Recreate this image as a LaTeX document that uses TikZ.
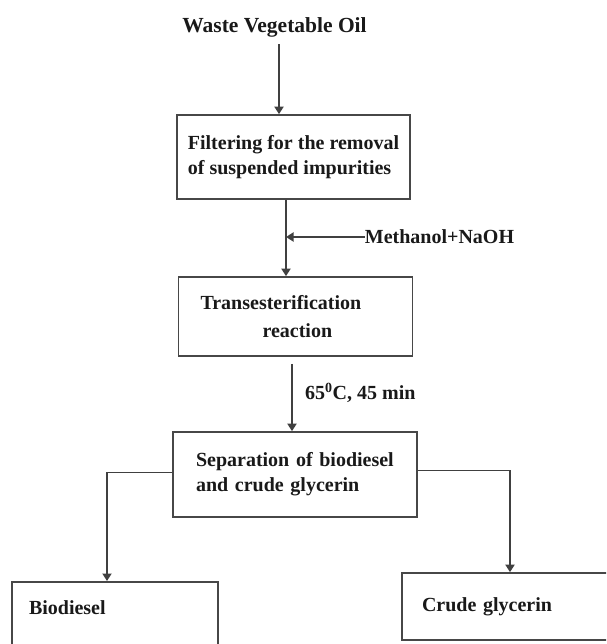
\documentclass[tikz,border=0pt]{standalone}
\usepackage{fontspec}
\setmainfont{Liberation Serif}
\usetikzlibrary{arrows.meta}
\tikzstyle{box}=[draw=black!72, line width=1.7pt, align=left, inner ysep=4pt, font=\fontsize{20}{25}\selectfont\bfseries, text=black!90]
\tikzstyle{txt}=[inner sep=0pt, font=\fontsize{20}{25}\selectfont\bfseries, text=black!90]
\tikzstyle{arrow}=[draw=black!75, line width=1.8pt, -{Triangle[length=7.5pt,width=9pt]}]

\begin{document}
\begin{tikzpicture}[x=1pt, y=-1pt]
\clip (0,0) rectangle (606,644);
\fill[white] (0,0) rectangle (606,644);
% process steps
\node[txt, font=\fontsize{21.5}{25}\selectfont\bfseries] (oil) at (274.5,27) {Waste Vegetable Oil};
\node[box, minimum width=233pt, minimum height=84pt] (filt) at (293.5,157) {Filtering for the removal\\of suspended impurities};
\node[box, text width=190pt, inner xsep=22pt, minimum height=79pt] (trans) at (295.5,316.5) {Transesterification\\[3pt]\hspace*{62pt}reaction};
\node[box, text width=198pt, inner xsep=23pt, minimum height=85pt] (sep) at (295,474.5) {Separation of biodiesel\\and crude glycerin};
\node[box, text width=172pt, inner xsep=17pt, inner ysep=19pt, text height=14pt, text depth=60pt, anchor=north] (bio) at (115,581) {Biodiesel};
\node[box, text width=168pt, inner xsep=20pt, minimum height=67pt] (glyc) at (506,606.5) {Crude glycerin};
% side inputs and conditions
\node[txt] (meoh) at (439.5,237) {Methanol+NaOH};
\node[txt, anchor=west] (cond) at (305,393) {65\textsuperscript{0}C, 45 min};
% flow lines
\coordinate (oilout) at ([xshift=4.5pt,yshift=-7pt]oil.south);
\coordinate (feed) at ([xshift=-7.5pt]filt.south);
\coordinate (transout) at ([xshift=-3.5pt,yshift=-7pt]trans.south);
\path[arrow] (oilout) -- (oilout |- filt.north);
\path[arrow] (feed) -- (feed |- trans.north);
\path[arrow] (meoh.west) -- (meoh.west -| feed);
\path[arrow] (transout) -- (transout |- sep.north);
\path[arrow] ([yshift=2pt]sep.west) -| ([xshift=-8pt]bio.north);
\path[arrow] ([yshift=4pt]sep.east) -| ([xshift=4pt]glyc.north);
\end{tikzpicture}
\end{document}
